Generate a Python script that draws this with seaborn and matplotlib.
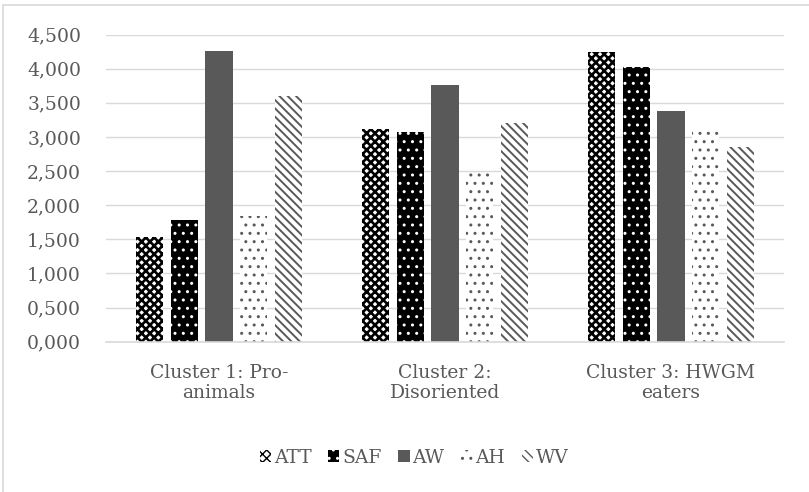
import matplotlib
matplotlib.use("Agg")
import matplotlib.pyplot as plt
from matplotlib.patches import Patch, Rectangle
from matplotlib.ticker import FuncFormatter, MultipleLocator
import pandas as pd
import seaborn as sns

# Cluster means for each measure
clusters = ["Cluster 1: Pro-\nanimals", "Cluster 2:\nDisoriented", "Cluster 3: HWGM\neaters"]
measures = ["ATT", "SAF", "AW", "AH", "WV"]
att = [1.53, 3.11, 4.25]
saf = [1.79, 3.07, 4.03]
aw = [4.26, 3.76, 3.38]
ah = [1.84, 2.47, 3.10]
wv = [3.60, 3.20, 2.85]

series = {"ATT": att, "SAF": saf, "AW": aw, "AH": ah, "WV": wv}
df = pd.DataFrame(
    [(c, m, series[m][i]) for m in measures for i, c in enumerate(clusters)],
    columns=["cluster", "measure", "value"],
)

# Per-measure fill styles: face colour, hatch colour, hatch pattern, hatch line width
styles = {
    "ATT": dict(face="white", hatchc="black", hatch="xxxx", hlw=1.9),
    "SAF": dict(face="black", hatchc="white", hatch="..", hlw=1.0),
    "AW": dict(face="#595959", hatchc="#595959", hatch=None, hlw=1.0),
    "AH": dict(face="white", hatchc="#595959", hatch="..", hlw=1.0),
    "WV": dict(face="white", hatchc="#595959", hatch="\\\\\\\\", hlw=1.4),
}

sns.set_theme(style="white")
plt.rcParams["font.family"] = ["DejaVu Serif"]
text_color = "#595959"
grid_color = "#d9d9d9"
fs = 13.5

fig = plt.figure(figsize=(8.09, 4.92), dpi=100)
ax = fig.add_axes([106 / 809, 1 - 341.7 / 492, (784 - 106) / 809, (341.7 - 34.5) / 492])

palette = {m: styles[m]["face"] for m in measures}
sns.barplot(
    data=df, x="cluster", y="value", hue="measure",
    order=clusters, hue_order=measures, palette=palette,
    width=0.77, gap=0.22, legend=False, ax=ax, zorder=3,
)


def apply_style(p, st):
    p.set_facecolor(st["face"])
    p.set_edgecolor(st["hatchc"])
    p.set_linewidth(0)
    if st["hatch"]:
        p.set_hatch(st["hatch"])
        if hasattr(p, "set_hatch_linewidth"):
            p.set_hatch_linewidth(st["hlw"])


for cont, m in zip(ax.containers, measures):
    for bar in cont:
        apply_style(bar, styles[m])

ax.set_ylim(0, 4.5)
ax.set_xlim(-0.5, 2.5)
ax.yaxis.set_major_locator(MultipleLocator(0.5))
ax.yaxis.set_major_formatter(FuncFormatter(lambda v, _: f"{v:.3f}".replace(".", ",")))
ax.grid(axis="y", color=grid_color, linewidth=1.0, zorder=0)
ax.set_axisbelow(True)
for s in ["top", "right", "left"]:
    ax.spines[s].set_visible(False)
ax.spines["bottom"].set_color(grid_color)
ax.spines["bottom"].set_linewidth(1.2)
ax.spines["bottom"].set_zorder(4)
ax.tick_params(axis="y", length=0, pad=18, labelsize=fs, labelcolor=text_color)
ax.tick_params(axis="x", length=0, pad=16, labelsize=fs, labelcolor=text_color)
ax.set_xlabel("")
ax.set_ylabel("")
for lbl in ax.get_xticklabels():
    lbl.set_linespacing(1.15)

handles = []
for m in measures:
    h = Patch(label=m)
    apply_style(h, styles[m])
    handles.append(h)
fig.legend(
    handles=handles, loc="center", bbox_to_anchor=(0.512, 1 - 458 / 492),
    ncol=5, frameon=False, fontsize=fs, labelcolor=text_color,
    handlelength=0.6, handleheight=0.6, handletextpad=0.15, columnspacing=0.9,
)

# Light border around the chart area
fig.patches.append(Rectangle((3 / 809, -0.1), 1.2, (492 - 5) / 492 + 0.1,
                             transform=fig.transFigure, fill=False,
                             edgecolor=grid_color, linewidth=1.2))

fig.savefig("out.png", dpi=100)
